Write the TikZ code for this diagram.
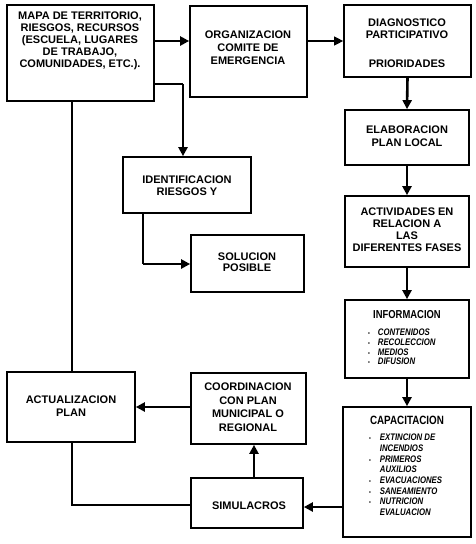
\documentclass[tikz,border=0pt]{standalone}
\usepackage{fontspec}
\setmainfont{Liberation Sans}
\newfontfamily\condfont{Liberation Sans}[FakeStretch=0.82]
\usetikzlibrary{arrows.meta}
\tikzset{
  box/.style n args={2}{draw, line width=1.7pt, minimum width=#1, minimum height=#2, inner sep=0pt},
  txt/.style={align=center, inner sep=0pt, font=\fontsize{11}{12}\selectfont\bfseries},
  conn/.style={line width=2.6pt},
  arr/.style={line width=2.6pt, -{Triangle[length=9pt,width=9pt]}},
  thinarr/.style={line width=1.3pt, -{Triangle[length=9pt,width=9pt]}},
  lst/.style={inner sep=0pt, anchor=north west, align=left}
}
\newcommand{\bul}{{\fontsize{6}{6}\selectfont\textbullet}}
\begin{document}
\begin{tikzpicture}[x=1pt,y=-1pt]
\useasboundingbox (0,0) rectangle (476,544);
% boxes
\node[box={147pt}{96pt}] (mapa) at (80.5,53) {};
\node[box={117pt}{91pt}] (org) at (248.5,51.5) {};
\node[box={127pt}{72pt}] (diag) at (407.5,41) {};
\node[box={124pt}{55pt}] (elab) at (407,137.5) {};
\node[box={124pt}{71pt}] (activ) at (407,231.5) {};
\node[box={124pt}{78pt}] (info) at (407,339) {};
\node[box={128pt}{130pt}] (capa) at (407,472) {};
\node[box={128pt}{56pt}] (ident) at (187,185) {};
\node[box={113pt}{57pt}] (sol) at (247.5,263.5) {};
\node[box={128pt}{70pt}] (actu) at (71,407) {};
\node[box={115pt}{71pt}] (coord) at (248.5,408.5) {};
\node[box={112pt}{50pt}] (simu) at (247,503) {};
% texts
\node[txt] (mapaT) at (80,41) {MAPA DE TERRITORIO,\\RIESGOS, RECURSOS\\(ESCUELA, LUGARES\\DE TRABAJO,\\COMUNIDADES, ETC.).};
\node[txt, font=\fontsize{11}{13}\selectfont\bfseries] (orgT) at (248,48) {ORGANIZACION\\COMITE DE\\EMERGENCIA};
\node[txt] (diagT) at (407,29) {DIAGNOSTICO\\PARTICIPATIVO};
\node[txt] (prioT) at (407,64) {PRIORIDADES};
\node[txt, font=\fontsize{11}{13}\selectfont\bfseries] (elabT) at (407,136.5) {ELABORACION\\PLAN LOCAL};
\node[txt, font=\fontsize{11}{12}\selectfont\bfseries] (activT) at (407,230) {ACTIVIDADES EN\\RELACION A\\LAS\\DIFERENTES FASES};
\node[txt] (identT) at (187,186) {IDENTIFICACION\\RIESGOS Y};
\node[txt, font=\fontsize{11}{11.5}\selectfont\bfseries] (solT) at (247,262) {SOLUCION\\POSIBLE};
\node[txt, font=\fontsize{11}{13}\selectfont\bfseries] (actuT) at (71,406) {ACTUALIZACION\\PLAN};
\node[txt, font=\fontsize{11}{13.5}\selectfont\bfseries] (coordT) at (248,407) {COORDINACION\\CON PLAN\\MUNICIPAL O\\REGIONAL};
\node[txt] (simuT) at (249,506) {SIMULACROS};
\node[txt, font=\fontsize{11.5}{12}\selectfont\condfont\bfseries] (infoH) at (407,315) {INFORMACION};
\node[lst] (infoL) at (368,328.5) {\fontsize{9.5}{9.8}\selectfont\condfont\bfseries\itshape
  \begin{tabular}{@{}c@{\hspace{8pt}}l@{}}
  \bul & CONTENIDOS\\ \bul & RECOLECCION\\ \bul & MEDIOS\\ \bul & DIFUSION
  \end{tabular}};
\node[txt, font=\fontsize{12}{12}\selectfont\condfont\bfseries] (capaH) at (407,420) {CAPACITACION};
\node[lst] (capaL) at (369,433) {\fontsize{9.5}{10.7}\selectfont\condfont\bfseries\itshape
  \begin{tabular}{@{}c@{\hspace{9pt}}l@{}}
  \bul & EXTINCION DE\\ & INCENDIOS\\ \bul & PRIMEROS\\ & AUXILIOS\\ \bul & EVACUACIONES\\ \bul & SANEAMIENTO\\ \bul & NUTRICION\\ & EVALUACION
  \end{tabular}};
% helper coordinates
\coordinate (r1) at (0,41);
\coordinate (k1) at (183,84);
\coordinate (k2) at (143,264);
\coordinate (k3) at (72,505);
\coordinate (k4) at (254,0);
\coordinate (k5) at (0,507);
\coordinate (k6) at (0,407);
% connectors
\draw[arr] (mapa.east |- r1) -- (org.west |- r1);
\draw[thinarr] (org.east |- r1) -- (diag.west |- r1);
\draw[arr] (diag.south) -- (elab.north);
\draw[arr] (elab.south) -- (activ.north);
\draw[arr] (activ.south) -- (info.north);
\draw[arr] (info.south) -- (capa.north);
\draw[conn] (mapa.east |- k1) -- (k1);
\draw[arr] (k1) -- (k1 |- ident.north);
\draw[conn] (k2 |- ident.south) -- (k2);
\draw[arr] (k2) -- (sol.west |- k2);
\draw[conn] (mapa.south -| k3) -- (actu.north -| k3);
\draw[arr] (coord.west |- k6) -- (actu.east |- k6);
\draw[arr] (simu.north -| k4) -- (coord.south -| k4);
\draw[conn] (actu.south -| k3) -- (k3) -- (simu.west |- k3);
\draw[arr] (capa.west |- k5) -- (simu.east |- k5);
\end{tikzpicture}
\end{document}
